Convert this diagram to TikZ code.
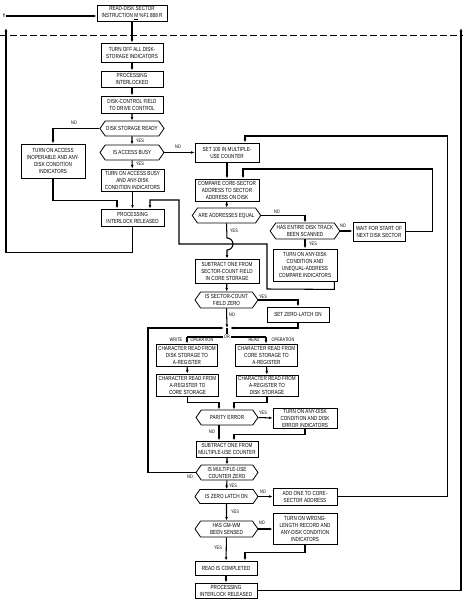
\documentclass[tikz,border=0pt]{standalone}
\usepackage{fontspec}
\setmainfont{Liberation Sans}[FakeStretch=0.78]
\usetikzlibrary{shapes.symbols,arrows.meta}
\begin{document}
\begin{tikzpicture}[x=1pt,y=-1pt,
  font=\fontsize{5.9}{7}\selectfont,
  blk/.style={draw, line width=0.8pt, align=center, inner sep=1pt, text=black},
  hexa/.style={draw, line width=0.8pt, align=center, inner sep=1pt, text=black,
    signal, signal to=west and east, signal pointer angle=110},
  flow/.style={line width=1.05pt, -{Latex[length=3.6pt,width=2.8pt]}},
  conn/.style={line width=1.05pt},
  lbl/.style={font=\fontsize{5}{6}\selectfont, inner sep=0.5pt, text=black},
  sep/.style={line width=1pt, dash pattern=on 7pt off 3pt}
]
\useasboundingbox (0,0) rectangle (463,604);

% ---- main column
\node[blk, minimum width=70, minimum height=16] (rd) at (132,13) {READ-DISK SECTOR\\INSTRUCTION \underline{M} \%F1 888 R};
\node[blk, minimum width=62, minimum height=19] (off) at (132,52.5) {TURN OFF ALL DISK-\\STORAGE INDICATORS};
\node[blk, minimum width=62, minimum height=16] (intl) at (132,79) {PROCESSING\\INTERLOCKED};
\node[blk, minimum width=62, minimum height=17] (dcf) at (132,104.5) {DISK-CONTROL FIELD\\TO DRIVE CONTROL};
\node[hexa, minimum width=64, minimum height=15] (dsr) at (132,128.5) {DISK STORAGE READY};
\node[hexa, minimum width=64, minimum height=15] (iab) at (132,152.5) {IS ACCESS BUSY};
\node[blk, minimum width=63, minimum height=22] (tab) at (132.5,180) {TURN ON ACCESS BUSY\\AND ANY-DISK\\CONDITION INDICATORS};
\node[blk, minimum width=63, minimum height=17] (pir1) at (132.5,217.5) {PROCESSING\\INTERLOCK RELEASED};
\node[blk, minimum width=64, minimum height=34] (inop) at (53,161) {TURN ON ACCESS\\INOPERABLE AND ANY-\\DISK CONDITION\\INDICATORS};

% ---- second column
\node[blk, minimum width=64, minimum height=19] (s100) at (227,152.5) {SET 100 IN MULTIPLE-\\USE COUNTER};
\node[blk, minimum width=64, minimum height=22] (cmp) at (227,190) {COMPARE CORE-SECTOR\\ADDRESS TO SECTOR\\ADDRESS ON DISK};
\node[hexa, minimum width=63, minimum height=15] (aae) at (226.5,215.5) {ARE ADDRESSES EQUAL};
\node[blk, minimum width=64, minimum height=24] (sub1) at (227,271) {SUBTRACT ONE FROM\\SECTOR-COUNT FIELD\\IN CORE STORAGE};
\node[hexa, minimum width=63, minimum height=16] (isz) at (226.5,300) {IS SECTOR-COUNT\\FIELD ZERO};
\node[blk, minimum width=61, minimum height=22] (w1) at (187,355) {CHARACTER READ FROM\\DISK STORAGE TO\\A-REGISTER};
\node[blk, minimum width=62, minimum height=22] (w2) at (187.5,385) {CHARACTER READ FROM\\A-REGISTER TO\\CORE STORAGE};
\node[blk, minimum width=62, minimum height=22] (r1) at (266.5,355) {CHARACTER READ FROM\\CORE STORAGE TO\\A-REGISTER};
\node[blk, minimum width=62, minimum height=21] (r2) at (267,385.5) {CHARACTER READ FROM\\A-REGISTER TO\\DISK STORAGE};
\node[hexa, minimum width=62, minimum height=15] (par) at (227,417.5) {PARITY ERROR};
\node[blk, minimum width=62, minimum height=16] (sub2) at (227,449) {SUBTRACT ONE FROM\\MULTIPLE-USE COUNTER};
\node[hexa, minimum width=62, minimum height=15] (imu) at (227,472.5) {IS MULTIPLE-USE\\COUNTER ZERO};
\node[hexa, minimum width=63, minimum height=14] (izl) at (226.5,496.5) {IS ZERO LATCH ON};
\node[hexa, minimum width=63, minimum height=16] (gm) at (226.5,529) {HAS GM-WM\\BEEN SENSED};
\node[blk, minimum width=62, minimum height=14] (ric) at (226,568) {READ IS COMPLETED};
\node[blk, minimum width=62, minimum height=15] (pir2) at (226,590.5) {PROCESSING\\INTERLOCK RELEASED};

% ---- third column
\node[hexa, minimum width=64, minimum height=16] (hes) at (305,231) {HAS ENTIRE DISK TRACK\\BEEN SCANNED};
\node[blk, minimum width=52, minimum height=19] (wait) at (379,231.5) {WAIT FOR START OF\\NEXT DISK SECTOR};
\node[blk, minimum width=64, minimum height=32] (une) at (305,265) {TURN ON ANY-DISK\\CONDITION AND\\UNEQUAL-ADDRESS\\COMPARE INDICATORS};
\node[blk, minimum width=62, minimum height=15] (szl) at (298,314.5) {SET ZERO-LATCH ON};
\node[blk, minimum width=64, minimum height=20] (dei) at (305,418) {TURN ON ANY-DISK\\CONDITION AND DISK\\ERROR INDICATORS};
\node[blk, minimum width=64, minimum height=17] (add) at (305,496.5) {ADD ONE TO CORE-\\SECTOR ADDRESS};
\node[blk, minimum width=64, minimum height=31] (wl) at (305,528.5) {TURN ON WRONG-\\LENGTH RECORD AND\\ANY-DISK CONDITION\\INDICATORS};

% ---- entry and program separator
\node[lbl] (ff) at (4,16) {ff};
\draw[flow] (ff.east) -- (ff.east -| rd.west);
\draw[sep] (0,36) -- (463,36);
\coordinate (retL) at (6,28);
\coordinate (retR) at (461,28);

% ---- main column connectors
\draw[flow] (rd) -- (off);
\draw[flow] (off) -- (intl);
\draw[flow] (intl) -- (dcf);
\draw[flow] (dcf) -- (dsr);
\draw[flow] (dsr) -- (iab);
\draw[flow] (iab) -- (tab);
\draw[flow] (tab.south -| pir1.north) -- (pir1.north);
\draw[flow] (dsr.west) -| (inop.north);
\draw[flow] (inop.south) -- ++(0,22) -| ([xshift=-15.5pt]pir1.north);
\draw[flow] (pir1.south) -- ++(0,26) -| (retL);
\draw[flow] (iab.east) -- (s100.west);

% ---- address compare loop
\draw[flow] (s100) -- (cmp);
\draw[flow] (cmp) -- (aae);
\draw[flow] (aae.east) -| (hes.north);
\draw[flow] (hes.east) -- (hes.east -| wait.west);
\draw[flow] (hes.south) -- (hes.south |- une.north);
\draw[flow] (wait.east) -- ++(27,0) -- ++(0,-62.5) -| ([xshift=16pt]cmp.north);
\coordinate (j1) at (150,200);
\draw[flow] ([xshift=-3pt]une.south east) -- ++(0,8) -- (267,289) -- (267,244) -- (179,244) -- (179,200) -- (j1) -- (j1 |- pir1.north);
\draw[flow] (aae.south) -- (227,238) arc[start angle=-90, end angle=90, radius=6] -- (sub1.north);
\draw[flow] (sub1) -- (isz);

% ---- sector count and the two operations
\coordinate (jn) at (227,328);
\coordinate (orL) at (187,337);
\coordinate (orR) at (266,337);
\draw[flow] (isz.east) -| (szl.north);
\draw[flow] (isz.south) -- (jn);
\draw[flow] (szl.south) |- ([xshift=3pt]jn);
\draw[flow] (imu.west) -- (148,472.5) -- (148,328) -- ([xshift=-3pt]jn);
\draw[conn] (jn) -- (227,337);
\draw[conn] (orL) -- (orR);
\node[lbl, fill=white, inner sep=1pt] (or) at (227,337) {OR};
\draw[flow] (orL) -- (orL |- w1.north);
\draw[flow] (orR) -- (orR |- r1.north);
\draw[flow] (w1) -- (w2);
\draw[flow] (r1) -- (r2);
\draw[flow] (w2.south) -- ++(0,6) -| ([xshift=-8pt]par.north);
\draw[flow] (r2.south) -- ++(0,6) -| ([xshift=7pt]par.north);
\draw[flow] (par.east) -- (dei.west);
\draw[flow] ([xshift=-8pt]par.south) -- ([xshift=-8pt]sub2.north);
\draw[flow] (dei.south) -- ++(0,6) -| ([xshift=7pt]sub2.north);
\draw[flow] (sub2) -- (imu);

% ---- completion
\draw[flow] (imu) -- (izl);
\draw[flow] (izl.east) -- (add.west);
\draw[flow] (add.east) -- ++(110,0) -- ++(0,-360.5) -| ([xshift=18pt]s100.north);
\draw[flow] (izl) -- (gm);
\draw[flow] (gm.east) -- (gm.east -| wl.west);
\draw[flow] (gm) -- (ric);
\draw[flow] (wl.south) -- ++(0,8) -| ([xshift=19pt]ric.north);
\draw[flow] (ric) -- (pir2);
\draw[flow] (pir2.east) -- (pir2.east -| retR) -- (retR);

% ---- branch labels
\node[lbl] at (74,123) {NO};
\node[lbl] at (140,141) {YES};
\node[lbl] at (140,164) {YES};
\node[lbl] at (178,147) {NO};
\node[lbl] at (277,212) {NO};
\node[lbl] at (234,231) {YES};
\node[lbl] at (343,226) {NO};
\node[lbl] at (313,244) {YES};
\node[lbl] at (263,297) {YES};
\node[lbl] at (232,315) {NO};
\node[lbl] at (176,340) {WRITE};
\node[lbl] at (202,340) {OPERATION};
\node[lbl] at (254,340) {READ};
\node[lbl] at (283,340) {OPERATION};
\node[lbl] at (263,413) {YES};
\node[lbl] at (212,432) {NO};
\node[lbl] at (190,477) {NO};
\node[lbl] at (233,486) {YES};
\node[lbl] at (263,492) {NO};
\node[lbl] at (235,512) {YES};
\node[lbl] at (262,523) {NO};
\node[lbl] at (218,548) {YES};
\end{tikzpicture}
\end{document}
